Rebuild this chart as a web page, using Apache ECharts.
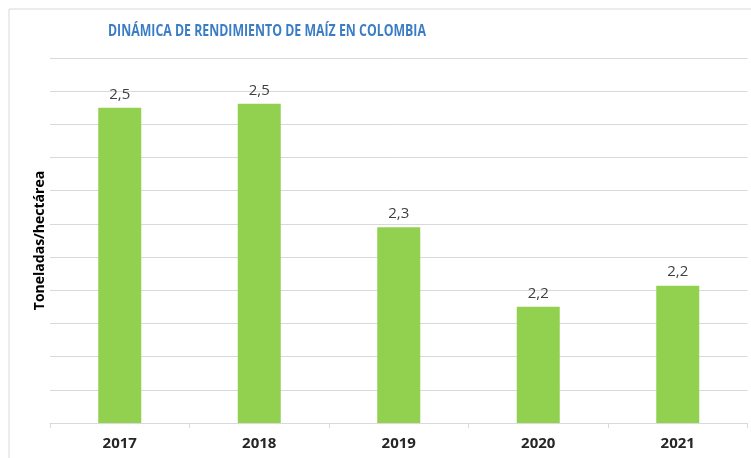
<!DOCTYPE html>
<html>
<head>
<meta charset="utf-8">
<script src="https://cdn.jsdelivr.net/npm/echarts@6/dist/echarts.min.js"></script>
<style>
  html, body { margin: 0; padding: 0; background: #fff; }
  #main { width: 751px; height: 458px; }
</style>
</head>
<body>
<div id="main"></div>
<script>
// datos
var years = ['2017', '2018', '2019', '2020', '2021'];
var rendimiento = [2.475, 2.481, 2.295, 2.175, 2.207];
var yMin = 2.0, yMax = 2.55, yStep = 0.05;
var titulo = 'DINÁMICA DE RENDIMIENTO DE MAÍZ EN COLOMBIA';

var myChart = echarts.init(document.getElementById('main'));

option = {
    animation: false,
    backgroundColor: '#fff',
    graphic: [{
        type: 'rect',
        shape: { x: 9, y: 9, width: 760, height: 470 },
        style: { fill: 'none', stroke: '#d9d9d9', lineWidth: 1 },
        silent: true
    }, {
        // titulo angosto (la fuente original es tipo Calibri)
        type: 'text',
        x: 108,
        y: 31,
        scaleX: 0.77,
        style: {
            text: titulo,
            fill: '#3b7dc4',
            fontFamily: 'Open Sans',
            fontWeight: 'bold',
            fontSize: 16,
            verticalAlign: 'middle'
        }
    }],
    grid: {
        left: 50,
        right: 3.5,
        top: 58,
        bottom: 35
    },
    xAxis: {
        type: 'category',
        data: years,
        axisLine: { lineStyle: { color: '#d9d9d9' } },
        axisTick: { show: true, length: 5, lineStyle: { color: '#d9d9d9' } },
        axisLabel: {
            color: '#262626',
            fontFamily: 'Open Sans',
            fontWeight: 'bold',
            fontSize: 15,
            margin: 13
        }
    },
    yAxis: {
        type: 'value',
        min: yMin,
        max: yMax,
        interval: yStep,
        name: 'Toneladas/hectárea',
        nameLocation: 'middle',
        nameGap: 3,
        nameTextStyle: {
            color: '#000',
            fontFamily: 'Open Sans',
            fontWeight: 'bold',
            fontSize: 14
        },
        axisLine: { show: false },
        axisTick: { show: false },
        axisLabel: { show: false },
        splitLine: { lineStyle: { color: '#d9d9d9' } }
    },
    series: [{
        type: 'bar',
        data: rendimiento,
        barWidth: 43,
        itemStyle: { color: '#92d050' },
        label: {
            show: true,
            position: 'top',
            distance: 6,
            color: '#404040',
            fontFamily: 'Open Sans',
            fontSize: 15,
            formatter: function (p) {
                return p.value.toFixed(1).replace('.', ',');
            }
        }
    }]
};

myChart.setOption(option);
</script>
</body>
</html>
